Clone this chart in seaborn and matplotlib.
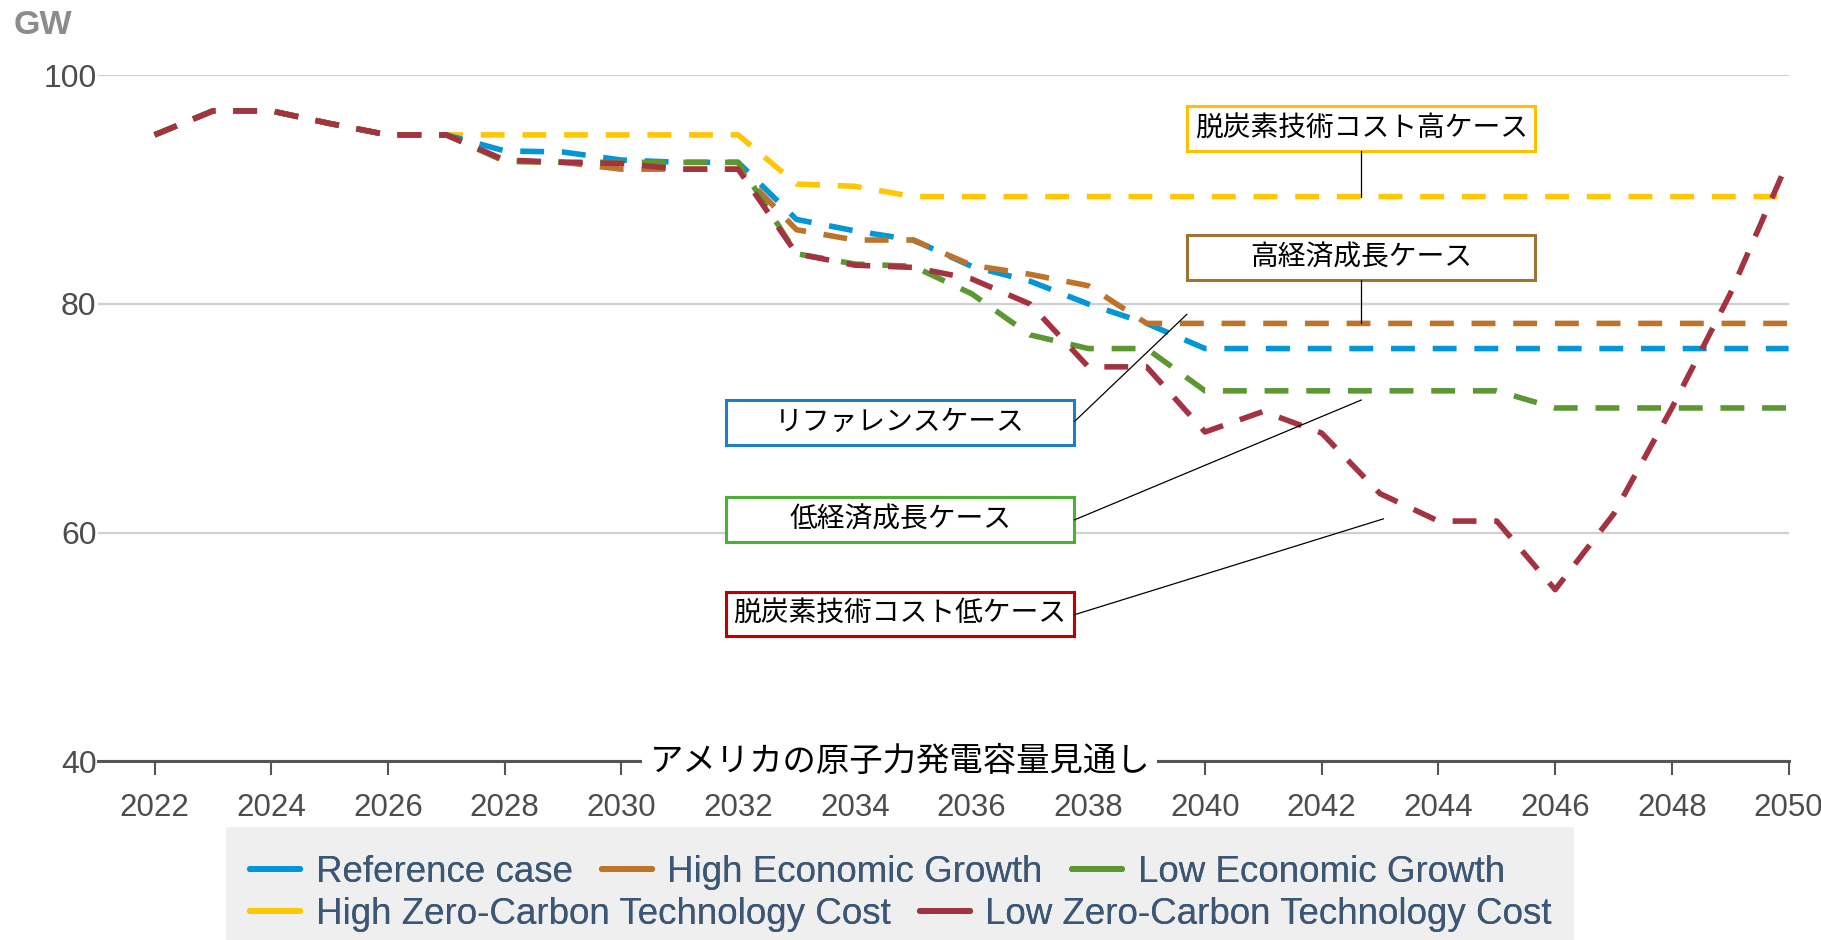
import numpy as np
import pandas as pd
import matplotlib
matplotlib.use('Agg')
import matplotlib.pyplot as plt
import seaborn as sns
from matplotlib.lines import Line2D
from matplotlib.patches import Rectangle

# ---- data (GW) ----
years = list(range(2022, 2051))

reference = [94.8, 96.9, 96.9, 95.8, 94.8, 94.8, 93.4, 93.3, 92.6, 92.4, 92.4,
             87.4, 86.4, 85.6, 83.3, 82.0, 80.0, 78.3, 76.1, 76.1, 76.1, 76.1,
             76.1, 76.1, 76.1, 76.1, 76.1, 76.1, 76.1]
high_econ = [94.8, 96.9, 96.9, 95.8, 94.8, 94.8, 92.5, 92.4, 91.8, 91.8, 91.8,
             86.5, 85.6, 85.6, 83.4, 82.6, 81.6, 78.3, 78.3, 78.3, 78.3, 78.3,
             78.3, 78.3, 78.3, 78.3, 78.3, 78.3, 78.3]
low_econ = [94.8, 96.9, 96.9, 95.8, 94.8, 94.8, 92.5, 92.4, 92.4, 92.4, 92.4,
            84.4, 83.5, 83.3, 80.9, 77.3, 76.1, 76.1, 72.4, 72.4, 72.4, 72.4,
            72.4, 72.4, 70.9, 70.9, 70.9, 70.9, 70.9]
high_zc = [94.8, 96.9, 96.9, 95.8, 94.8, 94.8, 94.8, 94.8, 94.8, 94.8, 94.8,
           90.5, 90.3, 89.4, 89.4, 89.4, 89.4, 89.4, 89.4, 89.4, 89.4, 89.4,
           89.4, 89.4, 89.4, 89.4, 89.4, 89.4, 89.4]
low_zc = [94.8, 96.9, 96.9, 95.8, 94.8, 94.8, 92.6, 92.4, 92.3, 91.8, 91.8,
          84.4, 83.4, 83.2, 82.2, 80.0, 74.5, 74.5, 68.8, 70.6, 68.7, 63.4,
          61.0, 61.0, 55.0, 61.6, 70.9, 80.9, 92.6]

cases = ['Reference case', 'High Economic Growth', 'Low Economic Growth',
         'High Zero-Carbon Technology Cost', 'Low Zero-Carbon Technology Cost']
colors = ['#0096d7', '#bd732a', '#5d9732', '#ffc702', '#a33340']
series = [reference, high_econ, low_econ, high_zc, low_zc]
draw_order = [3, 0, 1, 2, 4]

title = 'アメリカの原子力発電容量見通し'
box_labels = ['脱炭素技術コスト高ケース', '高経済成長ケース', 'リファレンスケース',
              '低経済成長ケース', '脱炭素技術コスト低ケース']
box_edge = ['#ffc000', '#9c7535', '#1f7fc0', '#4cb034', '#c00000']

df = pd.DataFrame({
    'year': years * len(cases),
    'gw': [v for s in series for v in s],
    'case': [c for c in cases for _ in years],
})

# ---- figure ----
sns.set_theme(style='white')
plt.rcParams['font.family'] = ['Liberation Sans', 'Noto Sans CJK JP']
jp = ['Noto Sans CJK JP', 'DejaVu Sans']

fig = plt.figure(figsize=(18.21, 9.40), dpi=100)
ax = fig.add_axes([0.0538, 0.1904, 0.9284, 0.7293])

order = [cases[i] for i in draw_order]
pal = {cases[i]: colors[i] for i in range(len(cases))}
sns.lineplot(data=df, x='year', y='gw', hue='case', hue_order=order,
             palette=pal, style='case', style_order=order,
             dashes={c: (4.3, 3.2) for c in cases}, lw=4.0,
             legend=False, ax=ax, zorder=3)

ax.set_xlim(2021.03, 2050)
ax.set_ylim(40, 100)
ax.set_xlabel('')
ax.set_ylabel('')
ax.set_yticks([40, 60, 80, 100])
ax.set_xticks(range(2022, 2051, 2))
ax.yaxis.grid(True, color='#d0d0d0', lw=1.6)
ax.set_axisbelow(True)
for side in ['top', 'right', 'left']:
    ax.spines[side].set_visible(False)
ax.spines['bottom'].set_color('#555555')
ax.spines['bottom'].set_linewidth(2.2)
ax.tick_params(axis='y', length=0, pad=1, labelsize=23, labelcolor='#4d4d4d')
ax.tick_params(axis='x', direction='out', length=10, width=1.5, color='#555555',
               pad=13, labelsize=22.5, labelcolor='#4d4d4d', bottom=True)

# title sitting on the x axis line
ax.text(2034.77, 40, title, ha='center', va='center', fontsize=24, family=jp,
        color='black', zorder=10,
        bbox=dict(facecolor='white', edgecolor='none', pad=5))

# annotation boxes (x0, y0) + leader lines
boxes = [(2039.69, 93.4), (2039.69, 82.1), (2031.79, 67.7),
         (2031.79, 59.2), (2031.79, 50.9)]
bw, bh = 5.97, 3.9
leaders = [((2042.68, 93.4), (2042.68, 89.4)),
           ((2042.68, 82.1), (2042.68, 78.3)),
           ((2037.76, 69.7), (2039.69, 79.1)),
           ((2037.76, 61.1), (2042.68, 71.6)),
           ((2037.76, 52.8), (2043.06, 61.2))]
for (x0, y0), lab, ec, (p1, p2) in zip(boxes, box_labels, box_edge, leaders):
    ax.add_patch(Rectangle((x0, y0), bw, bh, facecolor='white', edgecolor=ec,
                           lw=2.2, zorder=6, clip_on=False))
    ax.text(x0 + bw / 2, y0 + bh / 2, lab, ha='center', va='center',
            fontsize=20, family=jp, color='black', zorder=7)
    ax.plot([p1[0], p2[0]], [p1[1], p2[1]], color='black', lw=0.9, zorder=6)

# unit label
fig.text(14 / 1821, 1 - 26 / 940, 'GW', fontsize=24.5, weight='bold',
         color='#8c8c8c', ha='left', va='center')

# legend: grey band with two rows
fig.add_artist(Rectangle((226 / 1821, 0), (1574 - 226) / 1821, (940 - 827) / 940,
                         transform=fig.transFigure, facecolor='#efefef',
                         edgecolor='none', zorder=0))
handles = [Line2D([0], [0], color=c, lw=4.3) for c in colors]
rows = [([0, 1, 2], 872.5), ([3, 4], 914)]
for idx, yp in rows:
    leg = fig.legend([handles[i] for i in idx], [cases[i] for i in idx],
                     loc='center left', bbox_to_anchor=(250 / 1821, 1 - yp / 940),
                     ncol=len(idx), frameon=False, fontsize=26.5,
                     handlelength=1.36, handletextpad=0.42, columnspacing=0.8,
                     borderpad=0, borderaxespad=0, labelcolor='#3b5775')
    fig.add_artist(leg)

fig.savefig('out.png', dpi=100)
